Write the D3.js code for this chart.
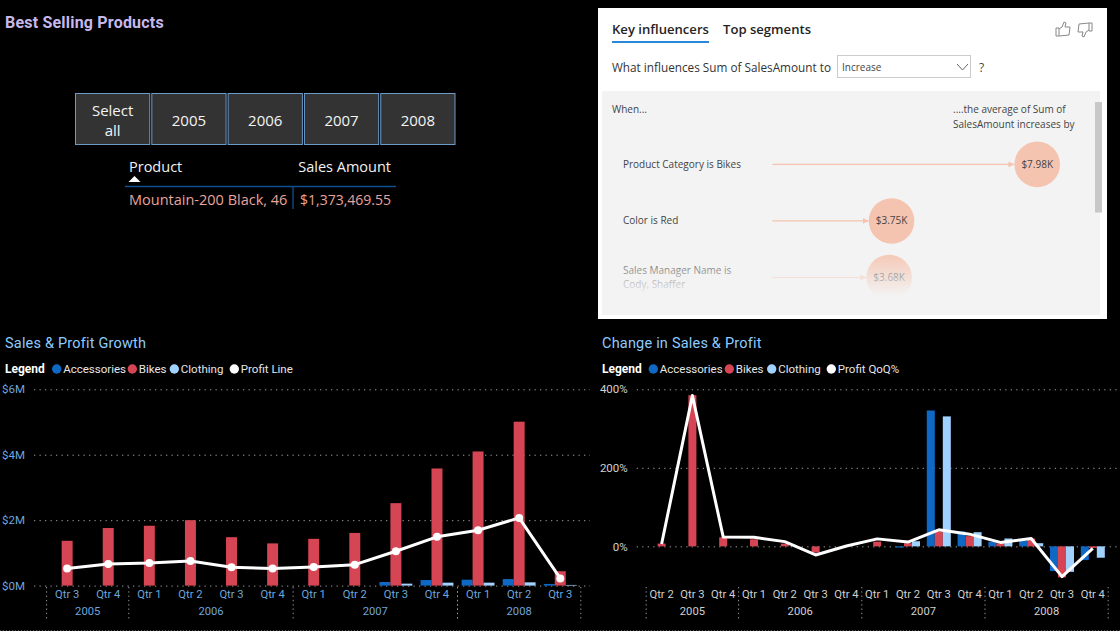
<!DOCTYPE html>
<html>
<head>
<meta charset="utf-8">
<script src="https://cdn.jsdelivr.net/npm/d3@7"></script>
<style>
  html, body { margin: 0; padding: 0; background: #000; overflow: hidden; }
  svg { display: block; }
  text { font-family: "Open Sans", "Noto Sans", sans-serif; }
  .din { font-family: Roboto, sans-serif; letter-spacing: 0.2px; }
  .chart text { font-family: Roboto, sans-serif; }
</style>
</head>
<body>
<script>
const width = 1120;
const height = 631;

const seriesNames = ['Accessories', 'Bikes', 'Clothing'];
const seriesColors = ['#0f69c4', '#d64554', '#a0d1ff'];

// left chart, $M
const growthYears = ['2005', '2005', '2006', '2006', '2006', '2006', '2007', '2007', '2007', '2007', '2008', '2008', '2008'];
const growthQuarters = ['Qtr 3', 'Qtr 4', 'Qtr 1', 'Qtr 2', 'Qtr 3', 'Qtr 4', 'Qtr 1', 'Qtr 2', 'Qtr 3', 'Qtr 4', 'Qtr 1', 'Qtr 2', 'Qtr 3'];
const growthAccessories = [0, 0, 0, 0, 0, 0, 0, 0, 0.11, 0.17, 0.18, 0.2, 0.05];
const growthBikes = [1.37, 1.76, 1.83, 2.0, 1.48, 1.29, 1.43, 1.61, 2.52, 3.58, 4.1, 5.01, 0.44];
const growthClothing = [0, 0, 0, 0, 0, 0, 0, 0, 0.06, 0.09, 0.09, 0.1, 0.02];
const growthProfit = [0.52, 0.66, 0.69, 0.75, 0.56, 0.52, 0.57, 0.64, 1.05, 1.49, 1.69, 2.07, 0.22];
const growthTicks = [0, 2, 4, 6];

// right chart, %
const changeYears = ['2005', '2005', '2005', '2006', '2006', '2006', '2006', '2007', '2007', '2007', '2007', '2008', '2008', '2008', '2008'];
const changeQuarters = ['Qtr 2', 'Qtr 3', 'Qtr 4', 'Qtr 1', 'Qtr 2', 'Qtr 3', 'Qtr 4', 'Qtr 1', 'Qtr 2', 'Qtr 3', 'Qtr 4', 'Qtr 1', 'Qtr 2', 'Qtr 3', 'Qtr 4'];
const changeAccessories = [0, 0, 0, 0, 0, 0, 0, 0, -3, 346, 38, 12, 14, -63, -35];
const changeBikes = [7, 385, 23, 18, 7, -16, 1, 12, 8, 38, 26, 8, 20, -79, -4];
const changeClothing = [0, 0, 0, 0, 0, 0, 0, 0, 13, 331, 36, 20, 8, -65, -29];
const changeProfit = [6, 384, 24, 23, 12, -22, 1, 19, 11, 42, 31, 10, 20, -77, -5];
const changeTicks = [0, 200, 400];

// slicer and table
const slicerItems = ['Select all', '2005', '2006', '2007', '2008'];
const tableProduct = 'Mountain-200 Black, 46';
const tableAmount = '$1,373,469.55';

// key influencers
const influencerLabels = [['Product Category is Bikes'], ['Color is Red'], ['Sales Manager Name is', 'Cody, Shaffer']];
const influencerValues = [7.98, 3.75, 3.68];
const influencerText = ['$7.98K', '$3.75K', '$3.68K'];

const svg = d3.select('body').append('svg').attr('width', width).attr('height', height);
svg.append('rect').attr('width', width).attr('height', height).attr('fill', '#000');

function drawChart(o) {
  const g = svg.append('g').attr('class', 'chart');
  const x = d3.scaleBand().domain(d3.range(o.quarters.length)).range([o.left, o.right]).paddingInner(o.pad).paddingOuter(o.pad / 2);
  const inner = d3.scaleBand().domain(seriesNames).range([0, x.bandwidth()]);
  const y = d3.scaleLinear().domain(o.domain).range([585.6, 389.3]);

  // title + legend
  g.append('text').attr('class', 'din').attr('x', o.titleX).attr('y', 348).attr('fill', '#8ecbff')
    .attr('font-size', 14.5).text(o.title);
  g.append('text').attr('x', o.titleX).attr('y', 373).attr('fill', '#fff').attr('font-size', 12)
    .attr('font-weight', 700).text('Legend');
  const names = seriesNames.concat([o.lineName]);
  const colors = seriesColors.concat(['#fff']);
  names.forEach((n, i) => {
    g.append('circle').attr('cx', o.legendX[i]).attr('cy', 369).attr('r', 4.7).attr('fill', colors[i]);
    g.append('text').attr('x', o.legendX[i] + 6.5).attr('y', 373).attr('fill', '#e6e6e6').attr('font-size', 11.5).text(n);
  });

  // value axis
  const yAxis = d3.axisLeft(y).tickValues(o.ticks).tickFormat(o.format)
    .tickSize(-(o.gridRight - o.gridLeft)).tickPadding(9);
  const ya = g.append('g').attr('transform', `translate(${o.gridLeft},0)`).call(yAxis);
  ya.select('.domain').remove();
  ya.selectAll('line').attr('stroke', '#9a9a9a').attr('stroke-width', 1).attr('stroke-dasharray', '1.3 4.2');
  ya.selectAll('text').attr('fill', o.axisColor).attr('font-size', 11.5);

  // bars
  const series = [o.accessories, o.bikes, o.clothing];
  series.forEach((vals, s) => {
    g.append('g').selectAll('rect').data(vals).join('rect')
      .attr('x', (d, i) => x(i) + inner(seriesNames[s]))
      .attr('y', (d) => y(Math.max(d, 0)))
      .attr('width', inner.bandwidth())
      .attr('height', (d) => Math.abs(y(d) - y(0)))
      .attr('fill', seriesColors[s]);
  });

  // line
  const cx = (i) => x(i) + x.bandwidth() / 2;
  const line = d3.line().x((d, i) => cx(i)).y((d) => y(d));
  g.append('path').datum(o.profit).attr('d', line).attr('fill', 'none').attr('stroke', '#fff')
    .attr('stroke-width', 3).attr('stroke-linejoin', 'round');
  if (o.markers) {
    g.append('g').selectAll('circle').data(o.profit).join('circle')
      .attr('cx', (d, i) => cx(i)).attr('cy', (d) => y(d)).attr('r', 4).attr('fill', '#fff');
  }

  // category axis
  const xAxis = d3.axisBottom(x).tickSize(0).tickPadding(0).tickFormat((i) => o.quarters[i]);
  const xa = g.append('g').attr('transform', 'translate(0,590)').call(xAxis);
  xa.select('.domain').remove();
  xa.selectAll('text').attr('fill', o.axisColor).attr('font-size', 11.2).attr('dy', '0.75em').attr('y', 0);

  // year groups
  const groups = d3.groups(d3.range(o.years.length), (i) => o.years[i]);
  const step = x.step();
  const edges = [];
  groups.forEach(([yr, idx]) => {
    const a = cx(idx[0]) - step / 2;
    const b = cx(idx[idx.length - 1]) + step / 2;
    edges.push(a);
    edges.push(b);
    g.append('text').attr('x', (a + b) / 2).attr('y', 614.5).attr('text-anchor', 'middle')
      .attr('fill', o.axisColor).attr('font-size', 11.2).text(yr);
  });
  g.append('g').selectAll('line').data(Array.from(new Set(edges))).join('line')
    .attr('x1', (d) => d).attr('x2', (d) => d).attr('y1', 587).attr('y2', 620)
    .attr('stroke', '#9a9a9a').attr('stroke-dasharray', '1.3 3');
}

function drawSlicer() {
  const x = d3.scaleBand().domain(slicerItems).range([75.5, 455]).paddingInner(0.027);
  const g = svg.append('g');
  g.append('text').attr('class', 'din').attr('x', 5).attr('y', 28).attr('fill', '#c7b8ec')
    .attr('font-size', 16).attr('font-weight', 700).attr('letter-spacing', 0.35).text('Best Selling Products');
  const cell = g.selectAll('g').data(slicerItems).join('g');
  cell.append('rect').attr('x', (d) => x(d)).attr('y', 93.5).attr('width', x.bandwidth()).attr('height', 51)
    .attr('fill', '#333').attr('stroke', '#6c9bc8').attr('stroke-width', 1);
  cell.each(function (d) {
    const lines = d === 'Select all' ? ['Select', 'all'] : [d];
    const c = d3.select(this);
    lines.forEach((t, i) => {
      c.append('text').attr('x', x(d) + x.bandwidth() / 2)
        .attr('y', lines.length === 1 ? 125.5 : 115.5 + i * 20)
        .attr('text-anchor', 'middle').attr('fill', '#f4f4f4').attr('font-size', 15).text(t);
    });
  });

  g.append('text').attr('x', 129).attr('y', 172).attr('fill', '#f2f2f2').attr('font-size', 14.5).text('Product');
  g.append('text').attr('x', 391).attr('y', 172).attr('text-anchor', 'end').attr('fill', '#f2f2f2').attr('font-size', 14.5).text('Sales Amount');
  g.append('path').attr('d', d3.symbol(d3.symbolTriangle, 32)()).attr('transform', 'translate(134.5,180) scale(1.4,0.8)').attr('fill', '#fff');
  g.append('line').attr('x1', 125).attr('x2', 396).attr('y1', 186.5).attr('y2', 186.5).attr('stroke', '#0f4f8f').attr('stroke-width', 1.3);
  g.append('line').attr('x1', 293).attr('x2', 293).attr('y1', 187).attr('y2', 209).attr('stroke', '#0f4f8f').attr('stroke-width', 1.3);
  g.append('text').attr('x', 129).attr('y', 205).attr('fill', '#e8a49c').attr('font-size', 14.5).text(tableProduct);
  g.append('text').attr('x', 391).attr('y', 205).attr('text-anchor', 'end').attr('fill', '#e8a49c').attr('font-size', 14).text(tableAmount);
}

function drawInfluencers() {
  const g = svg.append('g');
  const defs = svg.append('defs');
  const fade = defs.append('linearGradient').attr('id', 'fade').attr('x1', 0).attr('x2', 0).attr('y1', 0).attr('y2', 1);
  fade.append('stop').attr('offset', 0).attr('stop-color', '#f3f3f3').attr('stop-opacity', 0);
  fade.append('stop').attr('offset', 1).attr('stop-color', '#f3f3f3').attr('stop-opacity', 1);
  const marker = defs.append('marker').attr('id', 'arrow').attr('viewBox', '0 0 6 6').attr('refX', 6).attr('refY', 3)
    .attr('markerWidth', 6).attr('markerHeight', 6).attr('markerUnits', 'userSpaceOnUse').attr('orient', 'auto');
  marker.append('path').attr('d', 'M0,0L6,3L0,6Z').attr('fill', '#f5c4b0');

  g.append('rect').attr('x', 598).attr('y', 8).attr('width', 509).attr('height', 311).attr('fill', '#fff');
  g.append('rect').attr('x', 602).attr('y', 91).attr('width', 498).attr('height', 224).attr('fill', '#f3f3f3');
  g.append('rect').attr('x', 1095).attr('y', 102).attr('width', 7).attr('height', 110.5).attr('fill', '#c8c8c8');

  g.append('text').attr('x', 612).attr('y', 34).attr('fill', '#252423').attr('font-size', 13.1).attr('font-weight', 600).text('Key influencers');
  g.append('text').attr('x', 723).attr('y', 34).attr('fill', '#252423').attr('font-size', 13.1).attr('font-weight', 600).text('Top segments');
  g.append('rect').attr('x', 612).attr('y', 41).attr('width', 97).attr('height', 2).attr('fill', '#2b88d8');

  g.append('text').attr('x', 612).attr('y', 72).attr('fill', '#333').attr('font-size', 12.5)
    .attr('textLength', 219).attr('lengthAdjust', 'spacingAndGlyphs').text('What influences Sum of SalesAmount to');
  g.append('rect').attr('x', 837.5).attr('y', 55.5).attr('width', 133).attr('height', 22).attr('fill', '#fff').attr('stroke', '#ccc');
  g.append('text').attr('x', 842).attr('y', 71).attr('fill', '#444').attr('font-size', 10).text('Increase');
  g.append('path').attr('d', 'M957,64L962.5,70L968,64').attr('fill', 'none').attr('stroke', '#666');
  g.append('text').attr('x', 979).attr('y', 72).attr('fill', '#444').attr('font-size', 12).text('?');

  // thumbs
  const thumb = 'M0,6L3,6L3,14L0,14ZM3,7L6,5L8,0L10,1L9,5L14,5L13,13L3,14';
  g.append('path').attr('d', thumb).attr('transform', 'translate(1056,22)').attr('fill', 'none').attr('stroke', '#888');
  g.append('path').attr('d', thumb).attr('transform', 'translate(1092,37) rotate(180)').attr('fill', 'none').attr('stroke', '#888');

  g.append('text').attr('x', 612).attr('y', 113).attr('fill', '#444').attr('font-size', 10).text('When...');
  g.append('text').attr('x', 953).attr('y', 113).attr('fill', '#444').attr('font-size', 10).text('....the average of Sum of');
  g.append('text').attr('x', 953).attr('y', 127.5).attr('fill', '#444').attr('font-size', 10).text('SalesAmount increases by');

  const x = d3.scaleLinear().domain([0, 10]).range([762.4, 1106.8]);
  const y = d3.scalePoint().domain(d3.range(influencerValues.length)).range([164.4, 277.5]);
  const r = 22.8;
  influencerValues.forEach((v, i) => {
    influencerLabels[i].forEach((t, k) => {
      const yy = influencerLabels[i].length > 1 ? 274 + k * 13.7 : y(i) + 3.5;
      g.append('text').attr('x', 623).attr('y', yy).attr('fill', '#444').attr('font-size', 10).text(t);
    });
    g.append('line').attr('x1', 772.4).attr('x2', x(v) - r).attr('y1', y(i)).attr('y2', y(i))
      .attr('stroke', '#f5c4b0').attr('stroke-width', 1.2).attr('marker-end', 'url(#arrow)');
    g.append('circle').attr('cx', x(v)).attr('cy', y(i)).attr('r', r).attr('fill', '#f5c4b0');
    g.append('text').attr('x', x(v)).attr('y', y(i) + 3.5).attr('text-anchor', 'middle')
      .attr('fill', '#444').attr('font-size', 10).text(influencerText[i]);
  });
  // bottom fade over the third row
  g.append('rect').attr('x', 602).attr('y', 250).attr('width', 490).attr('height', 46).attr('fill', 'url(#fade)');
  g.append('rect').attr('x', 602).attr('y', 296).attr('width', 490).attr('height', 19).attr('fill', '#f3f3f3');
}

drawSlicer();
drawInfluencers();

drawChart({
  title: 'Sales & Profit Growth', titleX: 5, lineName: 'Profit Line',
  legendX: [56.7, 132.3, 174.3, 234.3],
  years: growthYears, quarters: growthQuarters,
  accessories: growthAccessories, bikes: growthBikes, clothing: growthClothing, profit: growthProfit,
  domain: [0, 6], ticks: growthTicks, format: (d) => `$${d}M`,
  left: 46.6, right: 580.8, pad: 0.2, gridLeft: 34, gridRight: 590,
  axisColor: '#6ea6dc', markers: true,
});

drawChart({
  title: 'Change in Sales & Profit', titleX: 602, lineName: 'Profit QoQ%',
  legendX: [653.3, 729.3, 771.7, 831.3],
  years: changeYears, quarters: changeQuarters,
  accessories: changeAccessories, bikes: changeBikes, clothing: changeClothing, profit: changeProfit,
  domain: [-100, 400], ticks: changeTicks, format: (d) => `${d}%`,
  left: 646.2, right: 1108.2, pad: 0.22, gridLeft: 636.7, gridRight: 1118,
  axisColor: '#d0d0d0', markers: false,
});

// faint dotted edge along the bottom of the page
svg.append('line').attr('x1', 0).attr('x2', width).attr('y1', 630.5).attr('y2', 630.5)
  .attr('stroke', '#555').attr('stroke-dasharray', '1 2');
</script>
</body>
</html>
